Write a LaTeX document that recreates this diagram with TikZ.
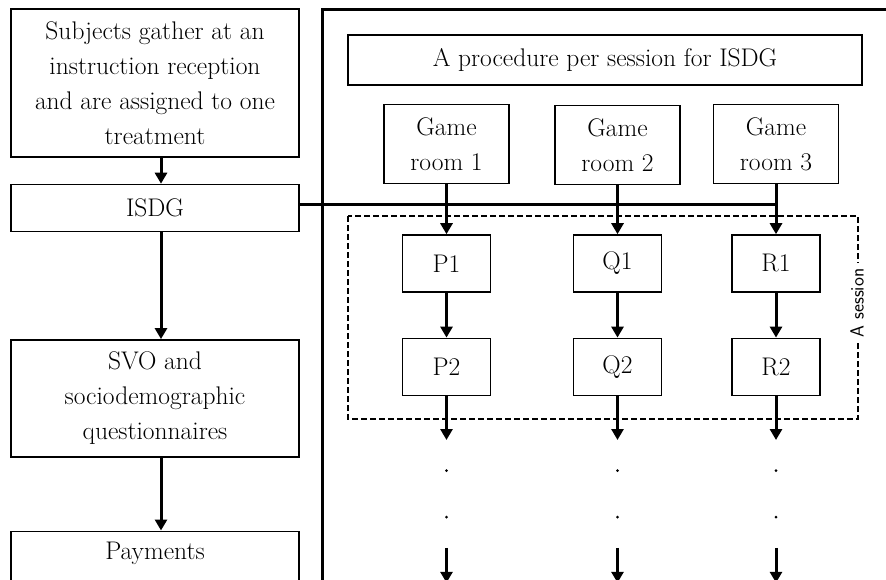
\documentclass[tikz,border=0pt]{standalone}
\usetikzlibrary{arrows.meta, positioning}
\tikzset{
  flowbox/.style={rectangle, draw, line width=1.4pt, inner sep=0pt, align=center,
                  minimum width=288pt, font=\fontsize{25.5}{35}\selectfont},
  roombox/.style={rectangle, draw, line width=1.4pt, inner sep=0pt, align=center,
                  minimum width=125pt, minimum height=79pt, font=\fontsize{25.5}{35}\selectfont},
  playerbox/.style={rectangle, draw, line width=1.4pt, inner sep=0pt, align=center,
                  minimum width=88pt, minimum height=57pt, font=\fontsize{25.5}{35}\selectfont},
  arr/.style={-{Triangle[length=11pt, width=12pt]}, line width=3pt},
  bus/.style={line width=3pt},
  frame/.style={line width=3pt},
  sessionline/.style={line width=2pt, dash pattern=on 6pt off 3pt},
  dot/.style={circle, fill, inner sep=0pt, minimum size=3pt},
}

\begin{document}
\begin{tikzpicture}[x=1pt, y=-1pt]
  \clip (0,0) rectangle (886,579);

  % Left column
  \node[flowbox, minimum height=148pt] (gather) at (155,83)
    {Subjects gather at an\\instruction reception\\and are assigned to one\\treatment};
  \node[flowbox, minimum height=47pt, below=26pt of gather] (isdg) {ISDG};
  \node[flowbox, minimum height=117pt, below=107pt of isdg] (svo)
    {SVO and\\sociodemographic\\questionnaires};
  \node[flowbox, minimum height=80pt, below=73pt of svo, text depth=40pt] (pay) {Payments};

  % Frame of the session procedure
  \draw[frame] (322,600) -- (322,9.5) -- (900,9.5);

  % Right part
  \node[flowbox, minimum width=514pt, minimum height=50pt] (title) at (605,60)
    {A procedure per session for ISDG};
  \node[roombox] (room1) at (446.5,144) {Game\\room 1};
  \node[roombox] (room2) at (617.5,145) {Game\\room 2};
  \node[roombox] (room3) at (776,144) {Game\\room 3};

  \node[playerbox, below=50pt of room1] (p1) {P1};
  \node[playerbox, below=45pt of p1] (p2) {P2};
  \node[playerbox, below=49pt of room2] (q1) {Q1};
  \node[playerbox, below=45pt of q1] (q2) {Q2};
  \node[playerbox, below=50pt of room3] (r1) {R1};
  \node[playerbox, below=45pt of r1] (r2) {R2};

  % A session
  \draw[sessionline] (348,216) rectangle (858,419);
  \node[rotate=90, fill=white, inner sep=6pt, font=\sffamily\fontsize{19}{19}\selectfont]
    (session) at (857,303) {A session};

  % Trailing dots
  \coordinate[below=44pt of p2] (pend);
  \coordinate[below=44pt of q2] (qend);
  \coordinate[below=44pt of r2] (rend);
  \node[dot, below=29pt of pend] (pdot1) {};
  \node[dot, below=43pt of pdot1] (pdot2) {};
  \node[dot, below=29pt of qend] (qdot1) {};
  \node[dot, below=43pt of qdot1] (qdot2) {};
  \node[dot, below=29pt of rend] (rdot1) {};
  \node[dot, below=43pt of rdot1] (rdot2) {};
  \coordinate[below=29pt of pdot2] (pnext);
  \coordinate[below=29pt of qdot2] (qnext);
  \coordinate[below=29pt of rdot2] (rnext);
  \coordinate[below=35pt of pnext] (pnextend);
  \coordinate[below=35pt of qnext] (qnextend);
  \coordinate[below=35pt of rnext] (rnextend);

  % Arrows
  \draw[arr] ([xshift=6pt]gather.south) -- ([xshift=6pt]isdg.north);
  \draw[arr] ([xshift=6pt]isdg.south) -- ([xshift=6pt]svo.north);
  \draw[arr] ([xshift=6pt]svo.south) -- ([xshift=6pt]pay.north);
  \draw[bus] ([yshift=3.5pt]isdg.east) -- ([yshift=3.5pt]isdg.east -| room3.south);
  \draw[arr] (room1) -- (p1);
  \draw[arr] (room2) -- (q1);
  \draw[arr] (room3) -- (r1);
  \draw[arr] (p1) -- (p2);
  \draw[arr] (q1) -- (q2);
  \draw[arr] (r1) -- (r2);
  \draw[arr] (p2) -- (pend);
  \draw[arr] (q2) -- (qend);
  \draw[arr] (r2) -- (rend);
  \draw[arr] (pnext) -- (pnextend);
  \draw[arr] (qnext) -- (qnextend);
  \draw[arr] (rnext) -- (rnextend);
\end{tikzpicture}
\end{document}
